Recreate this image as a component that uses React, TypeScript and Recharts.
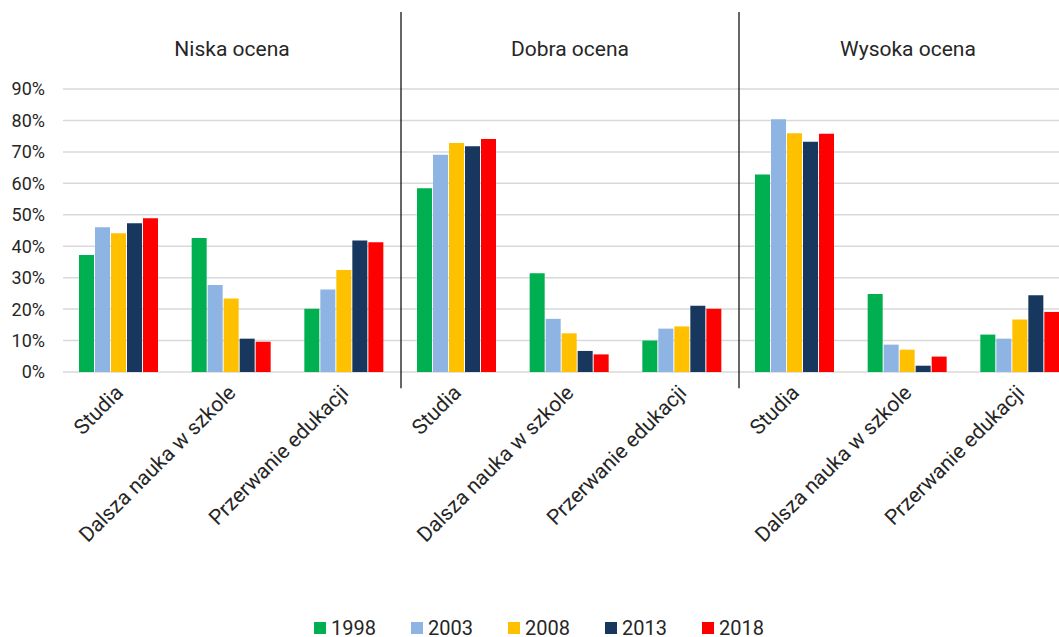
import React from "react";
import {
  BarChart, Bar, XAxis, YAxis, CartesianGrid, Legend, ReferenceLine,
} from "recharts";

const groups = ["Niska ocena", "Dobra ocena", "Wysoka ocena"];
const outcomes = ["Studia", "Dalsza nauka w szkole", "Przerwanie edukacji"];
const years = ["1998", "2003", "2008", "2013", "2018"];
const colors = ["#00b050", "#8eb4e3", "#ffc000", "#17375e", "#ff0000"];

// values in %, 9 bars per series: (group x outcome)
const v1998 = [37.2, 42.6, 20.1, 58.4, 31.4, 10.0, 62.8, 24.8, 11.9];
const v2003 = [46.0, 27.7, 26.2, 69.1, 16.9, 13.8, 80.4, 8.7, 10.6];
const v2008 = [44.1, 23.4, 32.4, 72.8, 12.3, 14.5, 75.9, 7.1, 16.7];
const v2013 = [47.3, 10.6, 41.8, 71.8, 6.7, 21.1, 73.2, 2.0, 24.4];
const v2018 = [48.9, 9.6, 41.3, 74.1, 5.6, 20.1, 75.8, 4.9, 19.1];
const series = [v1998, v2003, v2008, v2013, v2018];

const yTicks = [0, 10, 20, 30, 40, 50, 60, 70, 80, 90];
const groupCenters = [1.5, 4.5, 7.5];
const separators = [3, 6];

const data = groups.flatMap((g, gi) =>
  outcomes.map((o, oi) => {
    const row: Record<string, string | number> = {
      key: `${g}-${o}`,
      label: o,
      pos: gi * 3 + oi + 0.5,
    };
    years.forEach((y, yi) => {
      row[y] = series[yi][gi * 3 + oi];
    });
    return row;
  })
);

const FONT = "Roboto, sans-serif";
const TEXT = "#262626";

function CategoryTick({ x, y, payload }: any) {
  return (
    <g transform={`translate(${x + 5},${y + 22})`}>
      <text textAnchor="end" transform="rotate(-45)" fontSize={21} fill={TEXT} fontFamily={FONT}>
        {data[payload.index]?.label ?? payload.value}
      </text>
    </g>
  );
}

function GroupTick({ x, y, payload }: any) {
  const idx = groupCenters.indexOf(payload.value);
  return (
    <text x={x} y={y - 33} textAnchor="middle" fontSize={21} fill={TEXT} fontFamily={FONT}>
      {groups[idx]}
    </text>
  );
}

function LegendContent() {
  return (
    <div style={{ display: "flex", alignItems: "center", fontFamily: FONT, fontSize: 20, color: TEXT }}>
      {years.map((y, i) => (
        <div key={y} style={{ display: "flex", alignItems: "center", width: 97 }}>
          <span style={{ width: 12, height: 12, background: colors[i], marginRight: 5, display: "inline-block" }} />
          <span>{y}</span>
        </div>
      ))}
    </div>
  );
}

export default function App() {
  return (
    <div style={{ position: "absolute", left: 0, top: 0, width: 1059, height: 637, overflow: "hidden", background: "#fff" }}>
      <BarChart
        width={1090}
        height={637}
        data={data}
        margin={{ top: 0, right: 13, left: 0, bottom: 0 }}
        barCategoryGap={16}
        barGap={1}
      >
        <CartesianGrid vertical={false} stroke="#d9d9d9" strokeWidth={1.5} />
        <XAxis
          xAxisId="cat"
          dataKey="key"
          height={265}
          interval={0}
          tickLine={false}
          axisLine={false}
          tickSize={0}
          tickMargin={0}
          tick={<CategoryTick />}
        />
        <XAxis
          xAxisId="grp"
          dataKey="pos"
          type="number"
          orientation="top"
          domain={[0, 9]}
          allowDataOverflow
          ticks={groupCenters}
          height={89}
          tickLine={false}
          axisLine={false}
          tickSize={0}
          tickMargin={0}
          tick={<GroupTick />}
        />
        <YAxis
          width={63}
          domain={[0, 90]}
          ticks={yTicks}
          tickFormatter={(v) => `${v}%`}
          tickLine={false}
          axisLine={false}
          tickSize={6}
          tickMargin={12}
          tick={{ fontSize: 18, fill: TEXT, fontFamily: FONT }}
        />
        {separators.map((s) => (
          <ReferenceLine
            key={s}
            xAxisId="grp"
            ifOverflow="visible"
            segment={[{ x: s, y: -5.2 }, { x: s, y: 114.5 }]}
            stroke="#000"
            strokeWidth={1.2}
          />
        ))}
        {years.map((y, i) => (
          <Bar key={y} xAxisId="cat" dataKey={y} fill={colors[i]} isAnimationActive={false} />
        ))}
        <Legend
          layout="horizontal"
          verticalAlign="middle"
          align="center"
          content={<LegendContent />}
          wrapperStyle={{ left: 314, top: 616, width: 500, height: 22 }}
        />
      </BarChart>
    </div>
  );
}
